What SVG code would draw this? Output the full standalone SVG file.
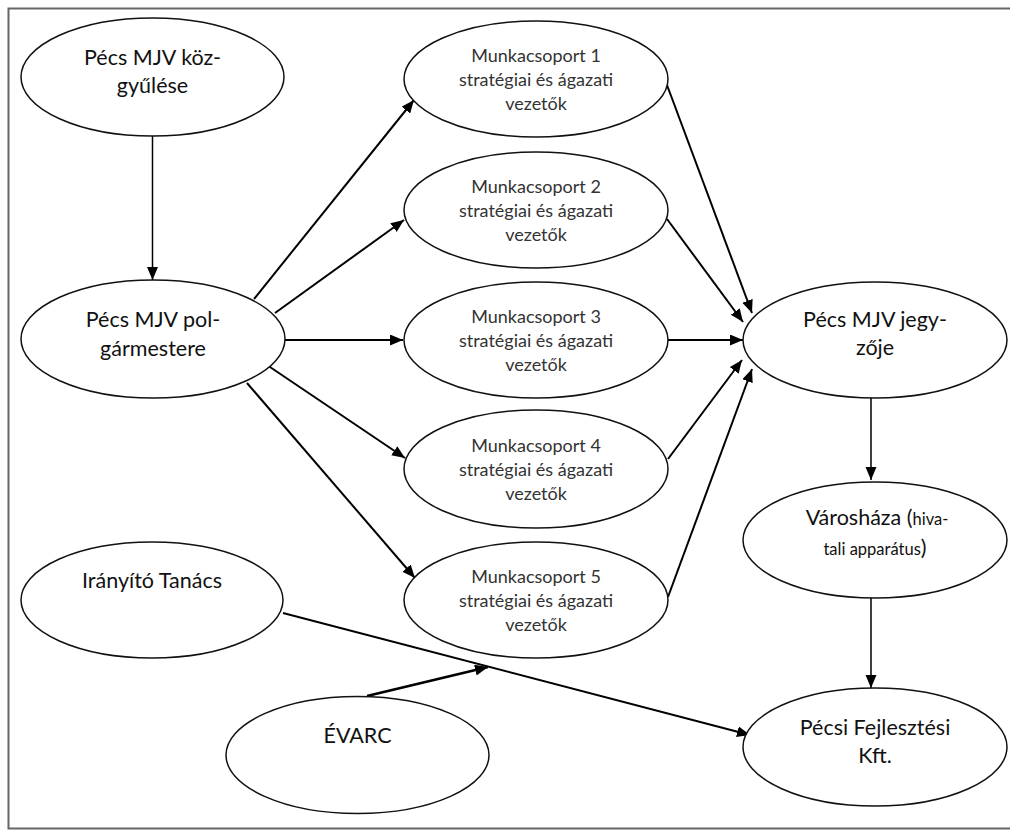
<svg xmlns="http://www.w3.org/2000/svg" width="1010" height="830" viewBox="0 0 1010 830">
<style>
.node ellipse{fill:#fff;stroke:#111;stroke-width:1.5}
.big{font-family:Lato,"Liberation Sans",sans-serif;font-size:21.5px;fill:#111;text-anchor:middle}
.small{font-family:Lato,"Liberation Sans",sans-serif;font-size:18px;fill:#333;text-anchor:middle}
.sm{font-size:16.5px}
#connectors line{stroke:#000;stroke-width:2;marker-end:url(#arr)}
</style>
<defs>
<marker id="arr" markerUnits="userSpaceOnUse" markerWidth="14" markerHeight="12" refX="13" refY="5.5" orient="auto">
<path d="M0,0 L13,5.5 L0,11 z" fill="#000"/>
</marker>
</defs>
<rect x="8.5" y="8.5" width="1010" height="820" fill="#fff" stroke="#666" stroke-width="2"/>
<g id="connectors">
<line x1="152.5" y1="136" x2="152.5" y2="280" style="stroke-width:1.5"/>
<line x1="254" y1="299" x2="414" y2="100"/>
<line x1="275" y1="313" x2="404" y2="220"/>
<line x1="284" y1="340" x2="403" y2="340"/>
<line x1="267" y1="365" x2="405" y2="458"/>
<line x1="247" y1="383" x2="415" y2="578"/>
<line x1="667" y1="85" x2="752" y2="313"/>
<line x1="667" y1="219" x2="743" y2="322"/>
<line x1="668" y1="340" x2="743" y2="340"/>
<line x1="668" y1="459" x2="742" y2="360"/>
<line x1="668" y1="597" x2="752" y2="369"/>
<line x1="871" y1="398" x2="871" y2="480" style="stroke-width:1.5"/>
<line x1="871" y1="598" x2="871" y2="688" style="stroke-width:1.5"/>
<line x1="283" y1="613" x2="750" y2="735"/>
<line x1="367" y1="696" x2="488" y2="667" style="stroke-width:2.8"/>
</g>
<g id="n-kozgyules" class="node">
<ellipse cx="152.5" cy="77" rx="131.5" ry="59"/>
<text class="big" x="152.5" y="65">Pécs MJV köz-</text>
<text class="big" x="152.5" y="93">gyűlése</text>
</g>
<g id="n-polgarmester" class="node">
<ellipse cx="153" cy="339" rx="132" ry="59"/>
<text class="big" x="153" y="327">Pécs MJV pol-</text>
<text class="big" x="153" y="356">gármestere</text>
</g>
<g id="n-m1" class="node">
<ellipse cx="536" cy="79" rx="132" ry="58"/>
<text class="small" x="536" y="62">Munkacsoport 1</text>
<text class="small" x="536" y="86">stratégiai és ágazati</text>
<text class="small" x="536" y="110">vezetők</text>
</g>
<g id="n-m2" class="node">
<ellipse cx="536" cy="210" rx="132" ry="58"/>
<text class="small" x="536" y="193">Munkacsoport 2</text>
<text class="small" x="536" y="217">stratégiai és ágazati</text>
<text class="small" x="536" y="241">vezetők</text>
</g>
<g id="n-m3" class="node">
<ellipse cx="536" cy="340" rx="132" ry="58"/>
<text class="small" x="536" y="323">Munkacsoport 3</text>
<text class="small" x="536" y="347">stratégiai és ágazati</text>
<text class="small" x="536" y="371">vezetők</text>
</g>
<g id="n-m4" class="node">
<ellipse cx="536" cy="469" rx="132" ry="59"/>
<text class="small" x="536" y="452">Munkacsoport 4</text>
<text class="small" x="536" y="476">stratégiai és ágazati</text>
<text class="small" x="536" y="500">vezetők</text>
</g>
<g id="n-m5" class="node">
<ellipse cx="536" cy="600" rx="132" ry="58"/>
<text class="small" x="536" y="583">Munkacsoport 5</text>
<text class="small" x="536" y="607">stratégiai és ágazati</text>
<text class="small" x="536" y="631">vezetők</text>
</g>
<g id="n-jegyzo" class="node">
<ellipse cx="875" cy="340" rx="132" ry="58"/>
<text class="big" x="875" y="327">Pécs MJV jegy-</text>
<text class="big" x="875" y="355">zője</text>
</g>
<g id="n-varoshaza" class="node">
<ellipse cx="875" cy="540" rx="132" ry="58"/>
<text class="big" x="877" y="525">Városháza (<tspan class="sm">hiva-</tspan></text>
<text class="big" x="875" y="555"><tspan class="sm">tali apparátus</tspan>)</text>
</g>
<g id="n-irany" class="node">
<ellipse cx="152" cy="600" rx="131" ry="58"/>
<text class="big" x="152" y="588">Irányító Tanács</text>
</g>
<g id="n-evarc" class="node">
<ellipse cx="357.5" cy="755" rx="131.5" ry="58.5"/>
<text class="big" x="357.5" y="743">ÉVARC</text>
</g>
<g id="n-pfk" class="node">
<ellipse cx="875" cy="747" rx="132" ry="59"/>
<text class="big" x="875" y="735">Pécsi Fejlesztési</text>
<text class="big" x="875" y="763">Kft.</text>
</g>
</svg>
